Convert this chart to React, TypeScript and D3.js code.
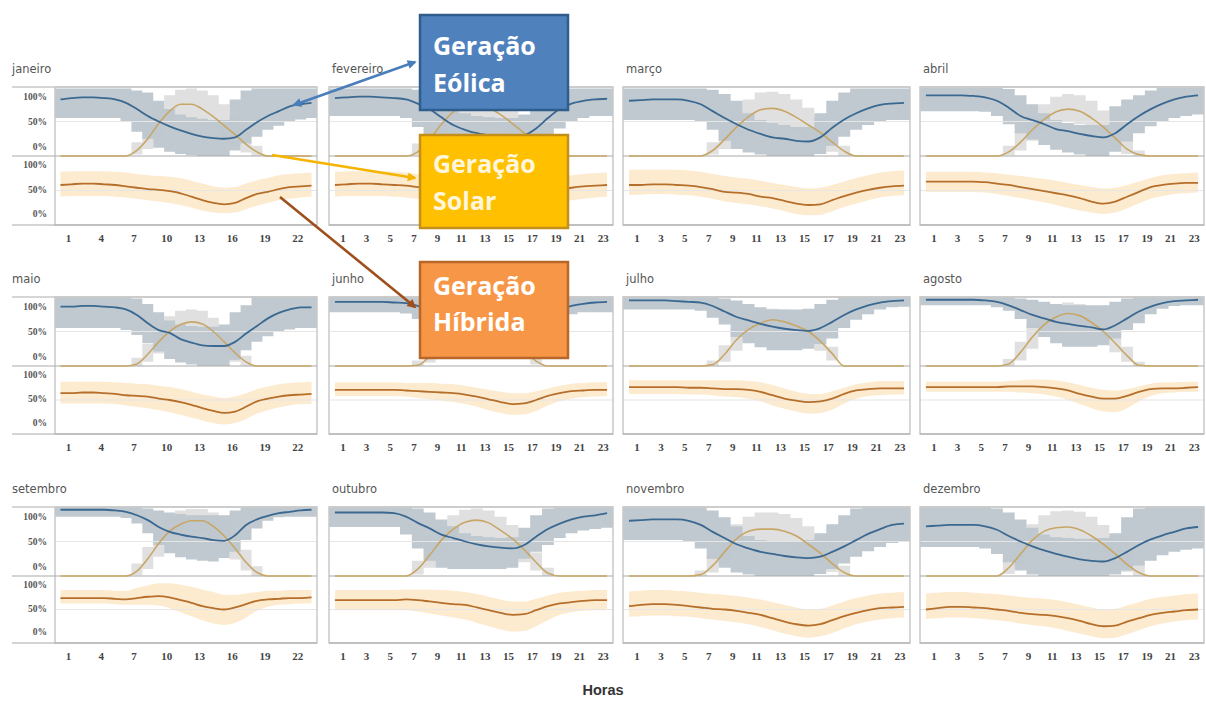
import React from 'react'
import * as d3 from 'd3'

// geração horária média por mês (%), com faixas de variação
const months = ['janeiro', 'fevereiro', 'março', 'abril', 'maio', 'junho', 'julho', 'agosto', 'setembro', 'outubro', 'novembro', 'dezembro']
const hours = [1, 2, 3, 4, 5, 6, 7, 8, 9, 10, 11, 12, 13, 14, 15, 16, 17, 18, 19, 20, 21, 22, 23, 24]
const ticksFirst = [1, 4, 7, 10, 13, 16, 19, 22]
const ticksOther = [1, 3, 5, 7, 9, 11, 13, 15, 17, 19, 21, 23]
const yTicks = [0, 50, 100]

const windMean = [
  [82, 84, 85, 85, 84, 82, 77, 68, 58, 50, 43, 37, 32, 28, 26, 25, 27, 38, 49, 58, 65, 72, 75, 77],
  [84, 85, 86, 86, 85, 84, 82, 76, 68, 56, 45, 38, 33, 30, 28, 27, 30, 40, 55, 68, 76, 80, 82, 83],
  [80, 81, 82, 82, 82, 80, 75, 65, 55, 46, 38, 32, 27, 25, 22, 21, 27, 41, 53, 62, 69, 74, 76, 77],
  [88, 88, 88, 88, 87, 85, 80, 70, 58, 52, 46, 39, 36, 32, 29, 27, 33, 46, 58, 68, 76, 82, 86, 88],
  [86, 86, 87, 87, 86, 85, 82, 74, 62, 52, 48, 39, 34, 30, 29, 29, 35, 47, 58, 69, 77, 82, 85, 85],
  [93, 93, 93, 93, 93, 92, 91, 87, 80, 72, 66, 61, 57, 54, 52, 51, 55, 64, 74, 82, 87, 90, 92, 93],
  [95, 95, 95, 95, 94, 93, 92, 87, 79, 71, 66, 61, 57, 54, 52, 51, 55, 64, 74, 82, 88, 92, 94, 95],
  [96, 96, 96, 96, 96, 95, 93, 88, 81, 74, 69, 64, 61, 58, 56, 53, 59, 69, 79, 86, 91, 94, 95, 96],
  [96, 96, 96, 96, 96, 95, 93, 88, 81, 71, 64, 60, 57, 55, 52, 51, 59, 74, 82, 87, 91, 93, 95, 96],
  [92, 92, 92, 92, 92, 91, 86, 77, 69, 60, 55, 50, 46, 43, 41, 40, 45, 57, 68, 76, 82, 86, 88, 91],
  [80, 81, 82, 82, 82, 80, 74, 64, 55, 46, 40, 35, 32, 29, 27, 26, 28, 35, 43, 52, 61, 68, 74, 76],
  [72, 73, 74, 74, 74, 72, 67, 58, 50, 43, 37, 32, 28, 24, 22, 21, 26, 35, 45, 53, 59, 64, 69, 71],
]
const windHi = [
  [98, 98, 98, 98, 98, 98, 98, 95, 92, 80, 68, 60, 56, 54, 52, 52, 82, 95, 98, 98, 98, 98, 98, 98],
  [98, 98, 98, 98, 98, 98, 98, 96, 92, 82, 70, 62, 58, 56, 55, 55, 60, 85, 96, 98, 98, 98, 98, 98],
  [98, 98, 98, 98, 98, 98, 98, 96, 90, 80, 62, 52, 48, 45, 42, 42, 62, 80, 92, 98, 98, 98, 98, 98],
  [100, 100, 100, 100, 100, 100, 100, 97, 88, 75, 62, 52, 48, 45, 45, 45, 72, 82, 88, 95, 100, 100, 100, 100],
  [100, 100, 100, 100, 100, 100, 100, 98, 90, 78, 66, 60, 58, 57, 57, 60, 78, 88, 100, 100, 100, 100, 100, 100],
  [100, 100, 100, 100, 100, 100, 100, 100, 98, 95, 90, 85, 82, 80, 80, 82, 88, 95, 100, 100, 100, 100, 100, 100],
  [100, 100, 100, 100, 100, 100, 100, 100, 98, 95, 90, 85, 82, 82, 82, 83, 90, 96, 100, 100, 100, 100, 100, 100],
  [100, 100, 100, 100, 100, 100, 100, 100, 98, 96, 93, 90, 88, 88, 88, 88, 93, 98, 100, 100, 100, 100, 100, 100],
  [100, 100, 100, 100, 100, 100, 100, 100, 98, 95, 92, 90, 88, 88, 88, 88, 95, 100, 100, 100, 100, 100, 100, 100],
  [100, 100, 100, 100, 100, 100, 100, 98, 92, 82, 72, 62, 58, 56, 55, 56, 70, 88, 98, 100, 100, 100, 100, 100],
  [100, 100, 100, 100, 100, 100, 100, 95, 85, 72, 58, 52, 50, 50, 50, 52, 62, 75, 88, 98, 100, 100, 100, 100],
  [100, 100, 100, 100, 100, 100, 98, 92, 82, 70, 60, 56, 55, 54, 54, 55, 62, 85, 98, 100, 100, 100, 100, 100],
]
const windLo = [
  [55, 55, 55, 55, 55, 55, 50, 35, 25, 12, 6, 3, 1, 0, 0, 0, 8, 18, 28, 38, 44, 50, 53, 55],
  [58, 58, 58, 58, 58, 58, 55, 42, 30, 18, 8, 4, 2, 0, 0, 0, 5, 15, 28, 40, 50, 55, 58, 58],
  [52, 52, 52, 52, 52, 52, 50, 38, 22, 10, 5, 2, 0, 0, 0, 0, 3, 15, 28, 38, 45, 50, 52, 52],
  [65, 65, 65, 65, 65, 64, 58, 46, 33, 24, 16, 9, 5, 2, 0, 0, 6, 21, 33, 43, 50, 55, 58, 60],
  [55, 55, 55, 55, 55, 55, 52, 45, 33, 21, 10, 5, 2, 0, 0, 0, 9, 23, 35, 43, 50, 53, 55, 55],
  [78, 78, 78, 78, 78, 78, 76, 68, 55, 42, 32, 25, 22, 20, 20, 20, 28, 40, 55, 68, 75, 78, 78, 78],
  [82, 82, 82, 82, 82, 82, 80, 70, 60, 42, 33, 27, 23, 23, 23, 25, 32, 40, 55, 67, 75, 82, 85, 86],
  [88, 88, 88, 88, 88, 88, 85, 80, 68, 55, 42, 33, 28, 28, 28, 30, 40, 52, 62, 75, 83, 87, 88, 88],
  [86, 86, 86, 86, 86, 86, 84, 76, 62, 45, 33, 27, 24, 22, 21, 26, 35, 52, 69, 80, 85, 86, 86, 86],
  [71, 71, 71, 71, 71, 71, 60, 40, 22, 12, 10, 10, 10, 10, 10, 12, 25, 35, 45, 55, 62, 66, 68, 70],
  [52, 52, 52, 52, 52, 50, 40, 25, 12, 5, 2, 0, 0, 0, 0, 0, 3, 10, 18, 28, 36, 42, 48, 50],
  [42, 42, 42, 42, 42, 40, 32, 20, 8, 2, 0, 0, 0, 0, 0, 0, 2, 8, 15, 22, 30, 35, 38, 40],
]
const solarMean = [
  [0, 0, 0, 0, 0, 0, 0, 8, 25, 47, 65, 75, 75, 68, 57, 44, 31, 17, 6, 0, 0, 0, 0, 0],
  [0, 0, 0, 0, 0, 0, 0, 6, 24, 46, 64, 74, 76, 70, 60, 47, 33, 18, 6, 0, 0, 0, 0, 0],
  [0, 0, 0, 0, 0, 0, 0, 8, 24, 42, 57, 67, 69, 65, 56, 45, 34, 20, 7, 0, 0, 0, 0, 0],
  [0, 0, 0, 0, 0, 0, 0, 6, 20, 38, 53, 64, 68, 65, 55, 42, 26, 10, 2, 0, 0, 0, 0, 0],
  [0, 0, 0, 0, 0, 0, 0, 3, 17, 35, 50, 60, 64, 61, 50, 35, 19, 6, 0, 0, 0, 0, 0, 0],
  [0, 0, 0, 0, 0, 0, 0, 1, 14, 33, 48, 58, 62, 60, 52, 39, 23, 7, 0, 0, 0, 0, 0, 0],
  [0, 0, 0, 0, 0, 0, 0, 2, 17, 38, 53, 62, 67, 64, 58, 50, 36, 18, 0, 0, 0, 0, 0, 0],
  [0, 0, 0, 0, 0, 0, 0, 3, 20, 42, 60, 71, 76, 73, 63, 50, 33, 15, 1, 0, 0, 0, 0, 0],
  [0, 0, 0, 0, 0, 0, 0, 7, 25, 47, 65, 75, 80, 80, 72, 58, 40, 20, 5, 0, 0, 0, 0, 0],
  [0, 0, 0, 0, 0, 0, 0, 10, 30, 52, 68, 78, 81, 77, 66, 54, 38, 20, 4, 0, 0, 0, 0, 0],
  [0, 0, 0, 0, 0, 0, 2, 15, 35, 54, 65, 68, 68, 65, 58, 46, 33, 18, 5, 0, 0, 0, 0, 0],
  [0, 0, 0, 0, 0, 0, 0, 12, 32, 52, 65, 70, 71, 67, 58, 46, 32, 17, 5, 0, 0, 0, 0, 0],
]
const solarHi = [
  [0, 0, 0, 0, 0, 0, 0, 20, 45, 72, 88, 96, 98, 95, 88, 75, 58, 35, 15, 0, 0, 0, 0, 0],
  [0, 0, 0, 0, 0, 0, 0, 18, 42, 68, 86, 95, 97, 95, 88, 76, 58, 36, 15, 0, 0, 0, 0, 0],
  [0, 0, 0, 0, 0, 0, 0, 20, 42, 65, 82, 92, 93, 90, 82, 70, 55, 35, 15, 0, 0, 0, 0, 0],
  [0, 0, 0, 0, 0, 0, 0, 15, 35, 58, 75, 86, 90, 88, 80, 66, 48, 25, 8, 0, 0, 0, 0, 0],
  [0, 0, 0, 0, 0, 0, 0, 12, 32, 55, 72, 80, 82, 80, 70, 55, 35, 15, 0, 0, 0, 0, 0, 0],
  [0, 0, 0, 0, 0, 0, 0, 8, 28, 50, 66, 75, 78, 76, 68, 55, 35, 14, 0, 0, 0, 0, 0, 0],
  [0, 0, 0, 0, 0, 0, 0, 8, 30, 55, 70, 80, 83, 82, 76, 66, 50, 28, 0, 0, 0, 0, 0, 0],
  [0, 0, 0, 0, 0, 0, 0, 10, 35, 60, 78, 88, 92, 90, 82, 68, 50, 28, 6, 0, 0, 0, 0, 0],
  [0, 0, 0, 0, 0, 0, 0, 18, 42, 68, 86, 95, 97, 97, 92, 80, 60, 38, 14, 0, 0, 0, 0, 0],
  [0, 0, 0, 0, 0, 0, 0, 22, 48, 72, 88, 96, 98, 95, 86, 74, 56, 34, 12, 0, 0, 0, 0, 0],
  [0, 0, 0, 0, 0, 0, 8, 30, 55, 75, 86, 92, 92, 90, 84, 72, 56, 36, 15, 0, 0, 0, 0, 0],
  [0, 0, 0, 0, 0, 0, 0, 25, 52, 75, 88, 94, 95, 93, 86, 74, 58, 38, 15, 0, 0, 0, 0, 0],
]
const solarLo = [
  [0, 0, 0, 0, 0, 0, 0, 2, 10, 28, 45, 55, 55, 50, 40, 28, 15, 5, 0, 0, 0, 0, 0, 0],
  [0, 0, 0, 0, 0, 0, 0, 1, 10, 27, 43, 53, 55, 50, 40, 28, 15, 5, 0, 0, 0, 0, 0, 0],
  [0, 0, 0, 0, 0, 0, 0, 2, 10, 25, 38, 46, 48, 44, 35, 25, 15, 6, 0, 0, 0, 0, 0, 0],
  [0, 0, 0, 0, 0, 0, 0, 1, 8, 22, 35, 45, 50, 46, 36, 25, 12, 3, 0, 0, 0, 0, 0, 0],
  [0, 0, 0, 0, 0, 0, 0, 0, 6, 18, 32, 42, 46, 42, 32, 18, 6, 0, 0, 0, 0, 0, 0, 0],
  [0, 0, 0, 0, 0, 0, 0, 0, 5, 18, 30, 40, 44, 42, 35, 24, 10, 2, 0, 0, 0, 0, 0, 0],
  [0, 0, 0, 0, 0, 0, 0, 0, 6, 22, 36, 46, 50, 48, 42, 35, 22, 8, 0, 0, 0, 0, 0, 0],
  [0, 0, 0, 0, 0, 0, 0, 0, 8, 25, 42, 54, 60, 57, 48, 36, 20, 6, 0, 0, 0, 0, 0, 0],
  [0, 0, 0, 0, 0, 0, 0, 1, 10, 28, 45, 56, 62, 62, 54, 40, 24, 8, 0, 0, 0, 0, 0, 0],
  [0, 0, 0, 0, 0, 0, 0, 2, 12, 30, 45, 55, 58, 55, 44, 34, 20, 8, 0, 0, 0, 0, 0, 0],
  [0, 0, 0, 0, 0, 0, 0, 5, 18, 35, 46, 50, 50, 46, 38, 28, 16, 6, 0, 0, 0, 0, 0, 0],
  [0, 0, 0, 0, 0, 0, 0, 3, 14, 32, 44, 50, 50, 46, 38, 28, 16, 6, 0, 0, 0, 0, 0, 0],
]
const hybMean = [
  [58, 59, 60, 60, 59, 58, 56, 54, 52, 51, 49, 46, 41, 36, 32, 30, 32, 39, 45, 48, 52, 55, 56, 57],
  [58, 59, 60, 60, 59, 58, 57, 55, 53, 52, 50, 47, 42, 37, 33, 31, 33, 40, 47, 51, 54, 56, 57, 58],
  [58, 58, 59, 59, 58, 57, 55, 52, 48, 47, 45, 41, 39, 35, 31, 29, 30, 36, 42, 47, 51, 54, 56, 57],
  [63, 63, 63, 63, 63, 62, 60, 58, 55, 52, 49, 46, 43, 39, 34, 31, 34, 41, 48, 55, 58, 60, 61, 61],
  [60, 60, 61, 61, 60, 59, 57, 56, 55, 52, 50, 47, 43, 38, 34, 31, 33, 40, 48, 52, 55, 57, 58, 59],
  [65, 65, 65, 65, 65, 65, 64, 63, 62, 61, 60, 58, 55, 51, 47, 44, 45, 50, 56, 60, 63, 64, 65, 65],
  [69, 69, 69, 69, 69, 68, 68, 67, 66, 66, 65, 62, 57, 52, 49, 47, 48, 52, 59, 64, 66, 67, 67, 67],
  [69, 69, 69, 69, 69, 69, 69, 70, 70, 70, 69, 67, 64, 59, 55, 52, 52, 56, 62, 66, 67, 67, 68, 69],
  [67, 67, 67, 67, 67, 66, 65, 67, 69, 70, 68, 64, 60, 55, 52, 50, 53, 58, 63, 65, 66, 67, 67, 68],
  [64, 64, 64, 64, 64, 64, 65, 64, 62, 60, 58, 57, 53, 49, 45, 42, 43, 49, 55, 59, 61, 63, 64, 64],
  [55, 57, 58, 58, 57, 55, 53, 51, 50, 48, 45, 42, 37, 32, 28, 26, 28, 34, 40, 45, 49, 52, 53, 54],
  [50, 52, 54, 54, 53, 52, 50, 48, 45, 43, 42, 40, 37, 33, 28, 25, 26, 32, 37, 42, 45, 47, 49, 50],
]
const hybHi = [
  [77, 78, 78, 78, 78, 77, 76, 74, 72, 71, 70, 68, 64, 60, 56, 54, 55, 60, 65, 68, 72, 74, 75, 76],
  [77, 78, 78, 78, 78, 77, 76, 74, 72, 71, 70, 68, 64, 60, 56, 54, 55, 61, 66, 69, 72, 74, 75, 76],
  [80, 80, 80, 80, 80, 79, 77, 74, 71, 69, 67, 64, 61, 58, 55, 53, 54, 58, 63, 68, 72, 76, 78, 79],
  [77, 77, 77, 77, 77, 76, 75, 73, 71, 69, 67, 64, 61, 58, 55, 53, 54, 58, 63, 68, 72, 74, 75, 76],
  [77, 77, 77, 77, 77, 76, 75, 74, 73, 71, 69, 66, 62, 58, 55, 53, 55, 60, 66, 70, 73, 75, 76, 77],
  [76, 76, 76, 76, 76, 76, 75, 75, 75, 74, 73, 71, 68, 65, 62, 60, 60, 63, 67, 71, 74, 75, 76, 76],
  [79, 79, 79, 79, 79, 79, 79, 79, 79, 79, 78, 76, 72, 67, 62, 59, 59, 63, 68, 73, 76, 78, 78, 78],
  [77, 77, 77, 77, 77, 77, 77, 78, 79, 80, 80, 79, 76, 72, 68, 65, 64, 66, 70, 74, 76, 76, 77, 77],
  [79, 79, 79, 79, 79, 78, 78, 82, 86, 89, 89, 87, 84, 80, 76, 72, 72, 74, 76, 78, 78, 79, 79, 79],
  [79, 79, 79, 79, 79, 79, 80, 80, 80, 79, 78, 76, 73, 69, 65, 62, 62, 66, 71, 75, 77, 78, 79, 79],
  [77, 78, 79, 79, 78, 77, 75, 73, 72, 70, 68, 65, 61, 57, 53, 50, 51, 56, 62, 67, 71, 74, 75, 76],
  [74, 75, 76, 76, 75, 74, 73, 71, 69, 67, 66, 64, 61, 57, 53, 50, 51, 56, 61, 66, 69, 71, 73, 74],
]
const hybLo = [
  [41, 42, 42, 42, 42, 41, 40, 38, 36, 34, 32, 29, 25, 21, 18, 17, 18, 23, 28, 32, 36, 38, 40, 41],
  [41, 42, 42, 42, 42, 41, 40, 38, 36, 34, 32, 29, 25, 21, 18, 17, 18, 24, 29, 33, 36, 38, 40, 41],
  [44, 44, 45, 45, 44, 43, 41, 38, 34, 32, 30, 27, 24, 20, 16, 14, 15, 20, 26, 31, 36, 40, 42, 43],
  [48, 48, 48, 48, 48, 47, 45, 42, 39, 36, 33, 29, 25, 21, 18, 16, 18, 24, 31, 38, 42, 45, 46, 47],
  [45, 45, 45, 45, 45, 44, 42, 40, 38, 35, 32, 28, 24, 20, 16, 14, 16, 22, 30, 35, 39, 42, 44, 44],
  [56, 56, 56, 56, 56, 56, 55, 53, 51, 49, 47, 44, 40, 35, 31, 28, 29, 34, 42, 48, 52, 54, 55, 56],
  [59, 59, 59, 59, 59, 58, 58, 57, 55, 54, 52, 48, 42, 37, 33, 30, 31, 36, 45, 52, 56, 57, 58, 58],
  [62, 62, 62, 62, 62, 62, 62, 62, 61, 60, 58, 55, 50, 44, 38, 33, 32, 38, 48, 56, 60, 61, 62, 62],
  [59, 59, 59, 59, 59, 58, 57, 57, 57, 56, 52, 46, 40, 34, 29, 27, 30, 38, 48, 54, 57, 58, 59, 59],
  [49, 49, 49, 49, 49, 49, 49, 47, 44, 41, 38, 35, 30, 25, 20, 17, 18, 25, 34, 42, 46, 48, 49, 49],
  [39, 40, 41, 41, 40, 39, 37, 35, 33, 31, 28, 24, 19, 14, 10, 8, 10, 15, 22, 28, 32, 35, 37, 38],
  [36, 37, 38, 38, 37, 36, 34, 32, 29, 27, 25, 22, 18, 14, 10, 7, 8, 13, 19, 25, 29, 32, 34, 35],
]

const cols = [
  { l: 55, r: 317 },
  { l: 329, r: 613 },
  { l: 623, r: 910 },
  { l: 920, r: 1204 },
]
const rows = [
  { t: 87, m: 156, b: 225 },
  { t: 297, m: 366, b: 434 },
  { t: 507, m: 576, b: 643 },
]

const C = {
  wind: '#3b6890',
  windBand: '#bcc6cc',
  solar: '#c8a666',
  solarBand: '#e0e0e0',
  hyb: '#b56f2b',
  hybBand: '#fdebd0',
  grid: '#e6e6e6',
  axis: '#a9a9a9',
  frame: '#c9c9c9',
}

const Panel = ({ i }: { i: number }) => {
  const col = cols[i % 4]
  const row = rows[Math.floor(i / 4)]
  const first = i % 4 === 0
  const x = d3.scaleLinear().domain([0.5, 24.5]).range([col.l, col.r])
  const yTop = d3.scaleLinear().domain([0, 100]).range([row.m, row.t])
  const yBot = d3.scaleLinear().domain([0, 100]).range([row.b, row.m])
  const yTopLab = d3.scaleLinear().domain([0, 100]).range([row.m - 9, row.t + 10])
  const yBotLab = d3.scaleLinear().domain([0, 100]).range([row.b - 11, row.m + 9])

  const band = (lo: number[], hi: number[], y: d3.ScaleLinear<number, number>) => {
    const loE = [...lo, lo[lo.length - 1]]
    const hiE = [...hi, hi[hi.length - 1]]
    return d3.area<number>()
      .curve(d3.curveStepAfter)
      .x((_, k) => x(k + 0.5))
      .y0((_, k) => y(loE[k]))
      .y1((_, k) => y(hiE[k]))(loE) || ''
  }
  const smoothBand = (lo: number[], hi: number[], y: d3.ScaleLinear<number, number>) =>
    d3.area<number>()
      .curve(d3.curveMonotoneX)
      .x((_, k) => x(hours[k]))
      .y0((_, k) => y(lo[k]))
      .y1((_, k) => y(hi[k]))(lo) || ''
  const line = (v: number[], y: d3.ScaleLinear<number, number>) =>
    d3.line<number>()
      .curve(d3.curveMonotoneX)
      .x((_, k) => x(hours[k]))
      .y(d => y(d))(v) || ''

  const left = first ? 12 : col.l
  const ticks = first ? ticksFirst : ticksOther

  return (
    <g>
      <text x={first ? 12 : col.l + 3} y={row.t - 14} fontSize={11.5} fill="#555" fontFamily="DejaVu Sans, sans-serif">
        {months[i]}
      </text>

      <path d={smoothBand(hybLo[i], hybHi[i], yBot)} fill={C.hybBand} />
      <path d={band(solarLo[i], solarHi[i], yTop)} fill={C.solarBand} />
      <path d={band(windLo[i], windHi[i], yTop)} fill={C.windBand} opacity={0.95} />

      <line x1={col.l} x2={col.r} y1={yTop(50)} y2={yTop(50)} stroke={C.grid} strokeWidth={1.2} />
      <line x1={col.l} x2={col.r} y1={yBot(50)} y2={yBot(50)} stroke={C.grid} strokeWidth={1.2} />

      <rect x={col.l} y={row.t} width={col.r - col.l} height={row.b - row.t} fill="none" stroke={C.frame} strokeWidth={1.5} />
      <line x1={left} x2={col.r} y1={row.t} y2={row.t} stroke={C.frame} strokeWidth={1.5} />
      <line x1={left} x2={col.r} y1={row.m} y2={row.m} stroke={C.axis} strokeWidth={1.2} />
      <line x1={left} x2={col.r} y1={row.b} y2={row.b} stroke={C.axis} strokeWidth={1.2} />

      <path d={line(solarMean[i], yTop)} fill="none" stroke={C.solar} strokeWidth={1.6} />
      <path d={line(windMean[i], yTop)} fill="none" stroke={C.wind} strokeWidth={1.8} />
      <path d={line(hybMean[i], yBot)} fill="none" stroke={C.hyb} strokeWidth={1.8} />

      {first && yTicks.map(t => (
        <g key={t} fontSize={9.5} fontWeight="bold" fill="#555" fontFamily="Liberation Serif, serif" textAnchor="end">
          <text x={47} y={yTopLab(t)} dominantBaseline="central">{t}%</text>
          <text x={47} y={yBotLab(t)} dominantBaseline="central">{t}%</text>
        </g>
      ))}
      {ticks.map(h => (
        <text key={h} x={x(h) + 8} y={row.b + 17} fontSize={11} fontWeight="bold" fill="#444"
          fontFamily="Liberation Serif, serif" textAnchor="middle">
          {h}
        </text>
      ))}
    </g>
  )
}

const callouts = [
  { y: 15, h: 95, fill: '#4f81bd', stroke: '#2f5d8c', text: '#ffffff', lines: ['Geração', 'Eólica'], base: [55, 92] },
  { y: 135, h: 93, fill: '#ffc000', stroke: '#c48f18', text: '#fff6dc', lines: ['Geração', 'Solar'], base: [173, 210] },
  { y: 262, h: 96, fill: '#f79646', stroke: '#b8672a', text: '#ffffff', lines: ['Geração', 'Híbrida'], base: [295, 331] },
]

const arrows = [
  { x1: 294, y1: 105, x2: 415, y2: 62, color: '#4a7ebb', id: 'aBlue', both: true },
  { x1: 272, y1: 155, x2: 415, y2: 178, color: '#f5b400', id: 'aYellow', both: false },
  { x1: 280, y1: 197, x2: 415, y2: 307, color: '#9e4f1c', id: 'aBrown', both: false },
]

const App = () => {
  return (
    <svg width={1206} height={701} style={{ position: 'absolute', left: 0, top: 0, background: '#fff' }}>
      <defs>
        {arrows.map(a => (
          <marker key={a.id} id={a.id} viewBox="0 0 10 10" refX={8} refY={5} markerWidth={10} markerHeight={9}
            markerUnits="userSpaceOnUse" orient="auto-start-reverse">
            <path d="M0,0 L10,5 L0,10 z" fill={a.color} />
          </marker>
        ))}
      </defs>
      {months.map((_, i) => <Panel key={i} i={i} />)}

      <text x={603} y={695} textAnchor="middle" fontSize={14.5} fontWeight="bold" fill="#333"
        fontFamily="Liberation Sans, Arial, sans-serif">Horas</text>

      {callouts.map((c, k) => (
        <g key={k}>
          <rect x={420} y={c.y} width={148} height={c.h} fill={c.fill} stroke={c.stroke} strokeWidth={2.5} />
          {c.lines.map((t, j) => (
            <text key={j} x={433} y={c.base[j]} fontSize={25} fontWeight="bold" fill={c.text}
              fontFamily="Open Sans, Noto Sans, sans-serif">{t}</text>
          ))}
        </g>
      ))}
      {arrows.map(a => (
        <line key={a.id} x1={a.x1} y1={a.y1} x2={a.x2} y2={a.y2} stroke={a.color} strokeWidth={2.6}
          markerEnd={`url(#${a.id})`} markerStart={a.both ? `url(#${a.id})` : undefined} />
      ))}
    </svg>
  )
}

export default App
